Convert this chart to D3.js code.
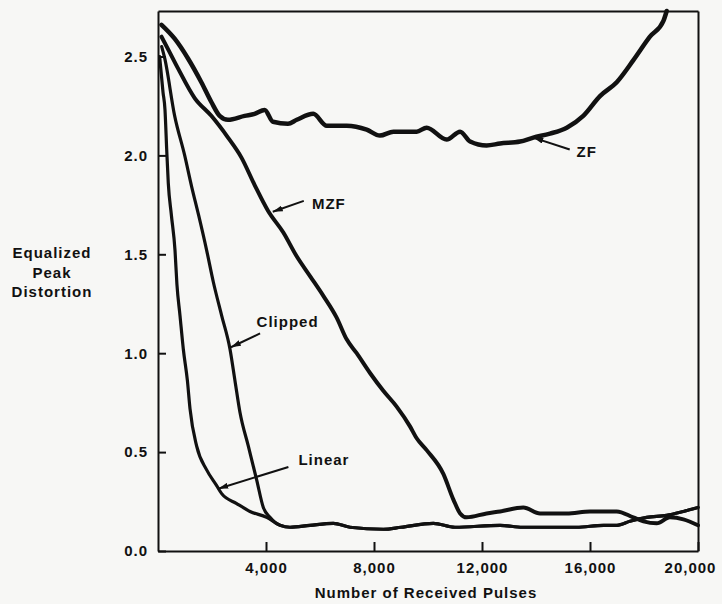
<!DOCTYPE html>
<html>
<head>
<meta charset="utf-8">
<script src="https://cdn.jsdelivr.net/npm/d3@7"></script>
<style>
  body { margin: 0; background: #f7f7f5; }
  svg { display: block; }
  text { font-family: "Liberation Sans", Arial, sans-serif; font-weight: bold; fill: #111; letter-spacing: 1px; }
  .axis path, .axis line { stroke: #111; stroke-width: 2; }
  .axis text { font-size: 15px; }
</style>
</head>
<body>
<script>
// chart size
const w = 722;
const h = 604;
const margin = { top: 11, right: 24, bottom: 53, left: 158 };

// tick values
const xTicks = [4000, 8000, 12000, 16000, 20000];
const yTicks = [0, 0.5, 1.0, 1.5, 2.0, 2.5];

// series: [received pulses, equalized peak distortion]
const zf = [
  [130, 2.66], [617, 2.59], [1111, 2.49], [1605, 2.37], [1975, 2.27], [2284, 2.20],
  [2593, 2.18], [3210, 2.20], [3580, 2.21], [3951, 2.23], [4259, 2.17], [4815, 2.16],
  [5140, 2.18], [5750, 2.21], [6250, 2.15], [6990, 2.15], [7730, 2.13], [8220, 2.10],
  [8720, 2.12], [9580, 2.12], [9950, 2.14], [10690, 2.08], [11190, 2.12], [11560, 2.07],
  [12170, 2.05], [12670, 2.06], [13410, 2.07], [13900, 2.09], [14520, 2.11], [15140, 2.14],
  [15750, 2.20], [16370, 2.30], [16990, 2.37], [17600, 2.48], [18220, 2.60], [18720, 2.68],
  [18840, 2.73]
];
const mzf = [
  [130, 2.60], [400, 2.53], [741, 2.44], [1358, 2.29], [1975, 2.20], [2593, 2.09],
  [3086, 1.99], [3580, 1.85], [4074, 1.72], [4642, 1.61], [5136, 1.49], [5630, 1.39],
  [6123, 1.29], [6617, 1.18], [6988, 1.07], [7358, 1.00], [7852, 0.90], [8345, 0.81],
  [8839, 0.73], [9333, 0.63], [9580, 0.57], [9950, 0.51], [10568, 0.39], [10940, 0.26],
  [11190, 0.19], [11430, 0.17], [12170, 0.19], [12670, 0.20], [13530, 0.22], [14150, 0.19],
  [15140, 0.19], [16000, 0.20], [16990, 0.20], [17600, 0.17], [17980, 0.15], [18470, 0.14],
  [18960, 0.17], [19460, 0.16], [20000, 0.13]
];
const clipped = [
  [137, 2.55], [250, 2.49], [617, 2.20], [988, 2.00], [1250, 1.84], [1500, 1.70],
  [1802, 1.52], [2049, 1.36], [2358, 1.19], [2667, 1.02], [2852, 0.86], [3037, 0.70],
  [3346, 0.53], [3654, 0.36], [3901, 0.22], [4148, 0.17], [4519, 0.13], [4889, 0.12],
  [5630, 0.13], [6494, 0.14], [7111, 0.12], [8346, 0.11], [9000, 0.12], [10198, 0.14],
  [11000, 0.12], [12667, 0.13], [13500, 0.12], [14500, 0.12], [15500, 0.12], [16500, 0.13],
  [17000, 0.13], [17480, 0.15], [18100, 0.17], [18840, 0.18], [19460, 0.20], [20000, 0.22]
];
const linear = [
  [60, 2.50], [185, 2.32], [259, 2.23], [322, 2.03], [381, 1.86], [494, 1.70],
  [630, 1.52], [700, 1.35], [815, 1.19], [938, 1.02], [1090, 0.86], [1185, 0.72],
  [1432, 0.53], [1802, 0.41], [2173, 0.33], [2358, 0.29], [2914, 0.24], [3407, 0.20],
  [4025, 0.17], [4519, 0.13], [4889, 0.12], [5630, 0.13], [6494, 0.14], [7111, 0.12],
  [8346, 0.11], [9000, 0.12], [10198, 0.14], [11000, 0.12], [12667, 0.13], [13500, 0.12],
  [14500, 0.12], [15500, 0.12], [16500, 0.13], [17000, 0.13], [17480, 0.15], [18100, 0.17],
  [18840, 0.18], [19460, 0.20], [20000, 0.22]
];

// curve labels: text anchor and arrow (from -> tip), in data units
const labels = [
  { name: "ZF", at: [15500, 1.99], from: [15250, 2.03], tip: [13900, 2.09] },
  { name: "MZF", at: [5700, 1.73], from: [5400, 1.77], tip: [4250, 1.715] },
  { name: "Clipped", at: [3650, 1.13], from: [3780, 1.10], tip: [2700, 1.03] },
  { name: "Linear", at: [5200, 0.435], from: [4830, 0.425], tip: [2230, 0.315] }
];

const x = d3.scaleLinear().domain([0, 20000]).range([margin.left, w - margin.right]);
const y = d3.scaleLinear().domain([0, 2.73]).range([h - margin.bottom, margin.top]);

const svg = d3.select("body").append("svg").attr("width", w).attr("height", h);

// arrow head
svg.append("defs").append("marker")
  .attr("id", "head")
  .attr("viewBox", "0 0 10 6")
  .attr("refX", 10).attr("refY", 3)
  .attr("markerWidth", 10).attr("markerHeight", 6)
  .attr("markerUnits", "userSpaceOnUse")
  .attr("orient", "auto")
  .append("path")
  .attr("d", "M0,0L10,3L0,6Z")
  .attr("fill", "#111");

// frame: top and right
svg.append("g").attr("class", "axis")
  .attr("transform", "translate(0," + y.range()[1] + ")")
  .call(d3.axisTop(x).tickValues([]).tickSizeOuter(0));
svg.append("g").attr("class", "axis")
  .attr("transform", "translate(" + x.range()[1] + ",0)")
  .call(d3.axisRight(y).tickValues([]).tickSizeOuter(0));

// x axis
const gx = svg.append("g").attr("class", "axis")
  .attr("transform", "translate(0," + y(0) + ")")
  .call(d3.axisBottom(x).tickValues(xTicks).tickFormat(d3.format(","))
    .tickSizeInner(-9).tickSizeOuter(0).tickPadding(11));
// last label sits a bit left so it stays inside the page
gx.selectAll(".tick:last-of-type text").attr("dx", -8);

// y axis
svg.append("g").attr("class", "axis")
  .attr("transform", "translate(" + x(0) + ",0)")
  .call(d3.axisLeft(y).tickValues(yTicks).tickFormat(d3.format(".1f"))
    .tickSizeInner(-8).tickSizeOuter(0).tickPadding(10));

// axis titles
svg.append("text")
  .attr("x", (x.range()[0] + x.range()[1]) / 2 - 2)
  .attr("y", 598)
  .attr("text-anchor", "middle")
  .attr("font-size", 15)
  .text("Number of Received Pulses");

svg.append("text")
  .attr("text-anchor", "middle")
  .attr("font-size", 15)
  .selectAll("tspan")
  .data(["Equalized", "Peak", "Distortion"])
  .enter()
  .append("tspan")
  .attr("x", 52)
  .attr("y", (d, i) => 258 + i * 19.5)
  .text(d => d);

// curves
const line = d3.line()
  .x(d => x(d[0]))
  .y(d => y(d[1]))
  .curve(d3.curveMonotoneX);

const series = [
  { data: linear, width: 3.2 },
  { data: clipped, width: 3.2 },
  { data: mzf, width: 4 },
  { data: zf, width: 4.5 }
];

svg.append("g")
  .selectAll("path")
  .data(series)
  .enter()
  .append("path")
  .attr("d", d => line(d.data))
  .attr("fill", "none")
  .attr("stroke", "#111")
  .attr("stroke-width", d => d.width)
  .attr("stroke-linejoin", "round")
  .attr("stroke-linecap", "round");

// labels with arrows
const lab = svg.append("g").selectAll("g").data(labels).enter().append("g");

lab.append("line")
  .attr("x1", d => x(d.from[0]))
  .attr("y1", d => y(d.from[1]))
  .attr("x2", d => x(d.tip[0]))
  .attr("y2", d => y(d.tip[1]))
  .attr("stroke", "#111")
  .attr("stroke-width", 2)
  .attr("marker-end", "url(#head)");

lab.append("text")
  .attr("x", d => x(d.at[0]))
  .attr("y", d => y(d.at[1]))
  .attr("font-size", 15)
  .text(d => d.name);
</script>
</body>
</html>
